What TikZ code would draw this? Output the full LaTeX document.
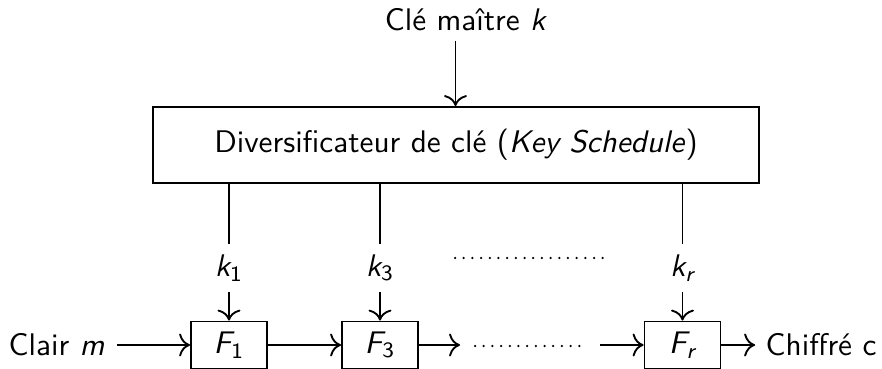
\documentclass[tikz,border=0pt]{standalone}
\usepackage{amsmath}
\usepackage{fontspec}
\usetikzlibrary{arrows.meta}
\begin{document}
\begin{tikzpicture}[x=0.32pt,y=-0.32pt,
  every node/.style={font=\sffamily},
  line/.style={line width=0.6pt},
  arr/.style={line width=0.6pt, -{To[scale=1.2]}},
  roundbox/.style={draw, line width=0.6pt, minimum width=76*0.32pt, minimum height=47*0.32pt, inner sep=0pt},
  dotrow/.style={line width=0.8pt, line cap=round, dash pattern=on 0pt off 2.78pt}]
\useasboundingbox (0,0) rectangle (882,369);

% master key and key schedule
\node (mk) at (466,20) {Clé maître \textit{k}};
\coordinate (mkout) at (455.5,41);
\node[draw, line width=0.6pt, minimum width=606*0.32pt, minimum height=76*0.32pt, inner sep=0pt] (ks) at (456,145)
  {Diversificateur de clé (\textit{Key Schedule})};
\draw[arr] (mkout) -- (mkout |- ks.north);

% round functions
\node[roundbox] (f1) at (229,345) {$\textit{F}_{\textsf{1}}$};
\node[roundbox] (f3) at (380,345) {$\textit{F}_{\textsf{3}}$};
\node[roundbox] (fr) at (682.5,345) {$\textit{F}_{\textit{r}}$};

% subkeys
\node (k1) at (229,268) {$\textit{k}_{\textsf{1}}$};
\node (k3) at (380,268) {$\textit{k}_{\textsf{3}}$};
\node (kr) at (682.5,268) {$\textit{k}_{\textit{r}}$};
\draw[line] (ks.south -| k1) -- (k1.north);
\draw[line] (ks.south -| k3) -- (k3.north);
\draw[line] (ks.south -| kr) -- (kr.north);
\draw[arr] (k1.south) -- (f1.north);
\draw[arr] (k3.south) -- (f3.north);
\draw[arr] (kr.south) -- (fr.north);

% plaintext / ciphertext chain
\node[anchor=west, inner sep=0pt] (m) at (8,345) {Clair \textit{m}};
\node[anchor=east, inner sep=0pt] (c) at (877,345) {Chiffré c};
\coordinate (gapl) at (460,345);
\coordinate (gapr) at (600,345);
\draw[arr] ([xshift=12*0.32pt]m.east) -- (f1.west);
\draw[arr] (f1.east) -- (f3.west);
\draw[arr] (f3.east) -- (gapl |- f3.east);
\draw[arr] (gapr |- fr.west) -- (fr.west);
\draw[arr] (fr.east) -- ([xshift=-10*0.32pt]c.west);

% ellipsis rows
\coordinate (d1a) at (455,258);
\coordinate (d1b) at (607,258);
\coordinate (d2a) at (475,346);
\coordinate (d2b) at (587,346);
\draw[dotrow] (d1a) -- (d1b);
\draw[dotrow] (d2a) -- (d2b);
\end{tikzpicture}
\end{document}
